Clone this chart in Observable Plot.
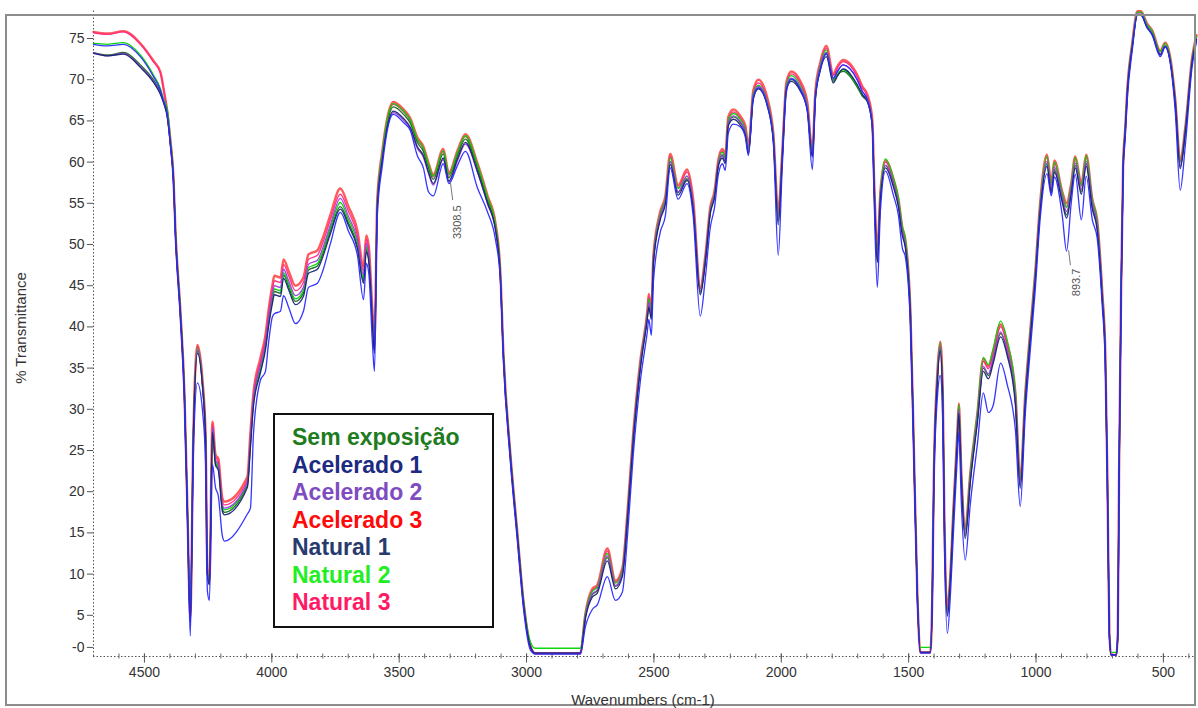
<!DOCTYPE html>
<html><head><meta charset="utf-8">
<script src="https://cdn.jsdelivr.net/npm/d3@7"></script>
<script src="https://cdn.jsdelivr.net/npm/@observablehq/plot@0.6"></script>
<style>
body{margin:0;background:#fff;width:1198px;height:708px;overflow:hidden;position:relative;font-family:"Liberation Sans",Arial,sans-serif}
#chart{position:absolute;left:0;top:0}
#frame{position:absolute;left:5px;top:14px;width:1191px;height:692px;box-sizing:border-box;border:2px solid #8c8c8c;pointer-events:none}
#legend{position:absolute;left:273px;top:413px;width:221px;height:215px;box-sizing:border-box;border:2px solid #111;background:#fff;padding:9px 0 0 17px}
#legend div{font-weight:bold;font-size:23px;line-height:27.5px;white-space:nowrap}
#ylab{position:absolute;left:20px;top:328px;transform:translate(-50%,-50%) rotate(-90deg);font-size:15px;color:#333;white-space:nowrap}
#xlab{position:absolute;left:643px;top:699px;transform:translate(-50%,-50%);font-size:15px;color:#333;white-space:nowrap}
</style></head>
<body>
<div id="chart"></div>
<div id="frame"></div>
<div id="ylab">% Transmittance</div>
<div id="xlab">Wavenumbers (cm-1)</div>
<div id="legend"></div>
<script>
const wavenumbers = [4700,4645,4582,4516,4465,4437,4425,4410,4398,4386,
4378,4359,4343,4331,4320,4308,4292,4272,4260,4253,
4245,4233,4221,4210,4194,4186,4096,4084,4072,4045,
4025,4013,3998,3990,3966,3954,3934,3907,3876,3856,
3821,3801,3770,3731,3699,3664,3640,3629,3619,3605,
3597,3586,3566,3547,3523,3483,3456,3429,3405,3385,
3366,3327,3305,3271,3240,3193,3154,3122,3103,3091,
3064,3036,3012,2985,2966,2789,2769,2742,2722,2683,
2651,2624,2604,2581,2553,2526,2520,2510,2502,2475,
2455,2436,2405,2370,2346,2318,2298,2279,2262,2247,
2231,2220,2208,2188,2161,2141,2129,2110,2090,2055,
2031,2012,1996,1980,1961,1925,1898,1878,1866,1847,
1823,1796,1780,1757,1702,1682,1662,1643,1635,1623,
1611,1591,1560,1540,1525,1513,1493,1481,1466,1454,
1415,1407,1401,1387,1376,1366,1360,1348,1336,1325,
1309,1303,1293,1278,1258,1230,1207,1187,1168,1139,
1113,1081,1062,1042,1023,1003,984,957,940,928,
897,880,862,846,822,803,779,760,740,728,
720,712,705,685,679,674,666,658,650,642,
622,602,588,564,544,512,493,473,453,434,
414,387,370];

const acelerado3 = [75.8,75.6,75.9,74.4,72.3,70.9,68.9,66.0,62.6,58.1,
51.5,42.0,32.0,17.5,4.7,27.0,37.8,33.5,27.0,10.5,
9.2,28.5,24.5,24.0,19.2,18.8,21.8,27.2,32.0,36.2,
39.0,42.0,45.0,46.2,46.0,48.2,46.8,45.0,46.0,48.8,
49.3,50.7,53.6,56.8,54.6,51.7,47.3,51.1,49.7,42.0,
38.5,55.5,61.4,65.3,67.3,66.4,65.3,63.0,61.9,59.9,
58.5,61.6,58.7,61.4,63.4,59.9,56.0,52.6,46.8,37.0,
24.8,15.0,6.7,1.3,0.4,0.4,5.2,8.2,8.7,13.1,
9.2,10.7,17.5,27.2,36.0,41.9,44.0,41.9,48.7,54.0,
55.9,61.0,57.2,59.1,55.5,44.8,48.7,54.5,56.5,60.3,
61.6,60.9,65.5,66.4,65.6,64.4,61.9,68.7,70.0,67.8,
63.4,54.0,61.4,69.7,71.0,69.8,67.3,61.4,68.7,72.1,
74.1,70.7,71.6,72.4,70.6,69.2,68.2,65.3,57.4,49.2,
56.4,60.2,58.0,55.5,52.1,50.6,41.9,27.2,7.8,0.5,
0.5,7.8,22.3,34.6,38.2,32.0,17.5,5.7,10.2,17.5,
27.2,30.7,22.3,15.5,22.3,29.6,36.1,35.2,37.1,40.3,
38.0,32.0,21.5,32.0,39.4,46.7,55.0,60.9,57.5,60.2,
56.4,55.0,57.4,60.7,57.4,60.9,55.5,53.0,44.3,37.0,
22.3,2.8,0.2,0.2,2.8,22.3,44.3,59.8,64.0,68.7,
74.5,78.3,78.3,76.8,76.0,73.5,74.5,72.7,67.5,60.2,
64.2,72.7,75.4];

const natural3 = [75.7,75.5,75.8,74.3,72.2,70.8,68.9,66.1,62.7,58.2,
51.5,42.0,32.0,17.5,4.6,27.0,37.6,33.3,26.9,10.4,
9.1,28.2,24.2,23.7,18.8,18.4,21.4,26.8,31.6,35.8,
38.6,41.6,44.5,45.6,45.4,47.6,46.2,44.4,45.4,48.2,
48.7,50.1,53.0,56.1,54.0,51.1,46.8,50.6,49.2,41.6,
38.1,55.2,61.1,65.0,67.0,66.1,65.0,62.7,61.6,59.6,
58.2,61.3,58.4,61.1,63.1,59.6,55.7,52.3,46.6,36.9,
24.7,14.9,6.6,1.3,0.4,0.4,5.1,8.0,8.5,12.8,
9.0,10.5,17.3,27.0,35.8,41.7,43.7,41.7,48.5,53.8,
55.7,60.7,56.9,58.8,55.2,44.6,48.5,54.3,56.3,60.1,
61.3,60.6,65.2,66.1,65.3,64.1,61.7,68.4,69.6,67.5,
63.2,53.6,61.2,69.5,70.7,69.5,67.1,61.2,68.5,71.9,
73.8,70.5,71.4,72.2,70.4,69.0,68.0,65.1,57.2,48.9,
56.2,60.0,57.8,55.3,51.9,50.4,41.8,27.1,7.7,0.5,
0.5,7.7,22.2,34.4,38.0,31.8,17.4,5.6,10.1,17.4,
27.0,30.5,22.1,15.3,22.1,29.4,35.8,34.9,36.8,40.0,
37.7,31.7,21.3,31.8,39.2,46.5,54.8,60.6,57.2,59.9,
56.1,54.6,57.1,60.4,57.1,60.6,55.3,52.8,44.1,36.9,
22.2,2.8,0.2,0.2,2.8,22.2,44.2,59.7,63.9,68.6,
74.4,78.2,78.2,76.7,75.9,73.4,74.4,72.6,67.4,60.0,
64.1,72.6,75.3];

const acelerado2 = [73.3,72.9,73.2,71.6,69.8,68.3,67.3,65.5,62.2,57.8,
51.2,41.7,31.7,17.2,4.3,26.6,37.2,33.0,26.6,10.2,
8.9,27.8,23.9,23.3,18.4,18.0,21.1,26.3,31.2,35.3,
38.1,41.0,43.9,45.0,44.8,47.0,45.6,43.8,44.8,47.6,
48.1,49.5,52.4,55.6,53.4,50.6,46.3,50.1,48.7,41.2,
37.7,54.8,60.5,64.2,66.0,65.1,64.0,61.7,60.6,58.6,
57.2,60.3,57.6,60.2,62.2,58.8,55.0,51.7,46.2,36.6,
24.5,14.7,6.5,1.2,0.4,0.4,4.9,7.6,8.1,12.2,
8.6,10.1,16.9,26.6,35.4,41.3,43.0,41.3,48.1,53.4,
55.3,60.1,56.4,58.3,54.8,44.3,48.2,54.0,56.0,59.8,
60.9,60.2,64.8,65.6,64.9,63.7,61.3,68.0,69.2,67.1,
62.9,53.0,60.8,69.1,70.2,69.0,66.7,60.9,68.1,71.5,
73.3,70.1,71.0,71.8,70.0,68.6,67.7,64.8,56.8,48.4,
55.8,59.6,57.4,54.9,51.5,50.0,41.5,26.9,7.6,0.5,
0.5,7.6,22.0,34.0,37.6,31.4,17.1,5.3,9.8,17.0,
26.6,30.0,21.7,14.9,21.6,28.9,35.2,34.3,36.2,39.4,
37.1,31.2,20.9,31.4,38.9,46.2,54.4,60.1,56.8,59.4,
55.7,54.0,56.7,59.9,56.7,60.1,54.9,52.4,43.8,36.6,
22.0,2.7,0.2,0.2,2.7,22.0,44.0,59.5,63.7,68.4,
74.2,78.0,78.0,76.4,75.6,73.1,74.1,72.3,67.1,59.6,
63.8,72.3,75.0];

const natural2 = [74.4,74.3,74.5,73.0,70.6,68.9,67.6,66.4,62.8,58.2,
51.6,42.1,32.1,17.6,4.8,27.1,37.4,33.2,26.8,10.5,
9.2,27.6,23.7,23.1,18.2,17.8,21.0,26.0,31.0,35.0,
37.8,40.6,43.5,44.6,44.4,46.6,45.2,43.4,44.4,47.2,
47.7,49.1,52.0,55.1,53.0,50.2,45.9,49.7,48.4,40.9,
37.4,55.3,61.2,65.1,67.1,66.2,65.1,62.8,61.7,59.7,
58.3,61.4,58.5,61.2,63.2,59.7,55.8,52.4,46.7,37.0,
24.8,15.0,6.9,1.8,1.0,1.0,5.2,7.9,8.4,12.5,
8.9,10.4,17.2,26.9,35.7,41.6,43.4,41.6,48.4,53.7,
55.6,60.5,56.8,58.3,54.8,44.4,48.4,54.2,56.2,60.0,
61.2,60.5,65.1,65.9,65.2,64.0,61.6,68.3,69.3,67.3,
63.1,53.4,61.1,69.4,70.5,69.2,66.9,61.1,68.3,71.7,
73.6,70.0,70.8,71.2,69.3,68.2,67.6,64.9,57.1,48.8,
56.3,60.4,58.1,55.6,52.2,50.7,42.0,27.3,8.0,1.1,
1.1,8.0,22.4,34.5,38.1,31.9,17.5,5.7,10.2,17.5,
27.1,30.6,22.2,15.4,22.3,29.7,36.3,35.4,37.4,40.7,
38.3,32.2,21.6,32.0,39.4,46.7,54.9,60.7,57.3,60.0,
56.2,54.5,57.2,60.6,57.2,60.8,55.4,52.9,44.2,37.0,
22.3,3.0,0.5,0.5,3.0,22.3,44.3,59.8,64.0,68.7,
74.5,78.2,78.2,76.7,75.9,73.4,74.4,72.6,67.4,60.0,
64.1,72.6,75.3];

const semExposicao = [73.3,73.0,73.3,71.8,70.0,68.5,67.4,65.6,62.3,57.9,
51.3,41.8,31.8,17.3,4.4,26.7,37.0,32.9,26.5,10.1,
8.8,27.4,23.4,22.9,17.9,17.5,20.8,25.7,30.7,34.7,
37.5,40.3,43.2,44.3,44.1,46.3,44.9,43.1,44.1,46.9,
47.4,48.8,51.7,54.6,52.6,49.8,45.6,49.4,48.1,40.6,
37.1,54.7,60.7,64.6,66.7,65.8,64.7,62.4,61.3,59.3,
57.9,61.0,58.1,60.8,62.8,59.3,55.4,52.1,46.4,36.7,
24.6,14.8,6.6,1.3,0.4,0.4,4.8,7.5,8.0,12.0,
8.5,10.0,16.8,26.5,35.3,41.2,42.8,41.2,48.0,53.3,
55.2,60.0,56.3,58.0,54.5,44.1,48.1,53.9,55.9,59.7,
60.8,60.1,64.7,65.5,64.8,63.6,61.2,67.9,69.0,67.0,
62.8,52.8,60.7,69.0,70.0,68.8,66.5,60.8,67.9,71.3,
73.1,69.8,70.6,71.0,69.1,68.0,67.3,64.6,56.6,48.1,
55.7,59.6,57.3,54.8,51.4,49.9,41.4,26.8,7.5,0.5,
0.5,7.5,21.8,33.8,37.4,31.2,16.9,5.1,9.6,16.8,
26.4,29.8,21.5,14.6,21.4,28.7,35.0,34.1,36.0,39.2,
36.9,31.0,20.7,31.2,38.7,46.0,54.2,59.8,56.5,59.1,
55.4,53.6,56.4,59.6,56.4,59.8,54.6,52.1,43.6,36.5,
21.9,2.7,0.2,0.2,2.7,21.9,43.9,59.4,63.6,68.3,
74.1,77.9,77.9,76.4,75.6,73.1,74.1,72.3,67.1,59.4,
63.7,72.3,75.0];

const natural1 = [73.2,72.9,73.1,71.5,69.7,68.2,67.2,65.4,62.1,57.7,
51.1,41.6,31.6,17.1,4.2,26.5,36.8,32.7,26.3,10.0,
8.7,27.2,23.2,22.6,17.6,17.2,20.5,25.3,30.4,34.4,
37.2,40.0,42.8,43.9,43.7,45.9,44.5,42.7,43.7,46.5,
47.0,48.4,51.3,54.3,52.3,49.5,45.3,49.1,47.8,40.3,
36.8,54.4,60.3,64.2,66.2,65.3,64.2,61.9,60.8,58.8,
57.4,60.5,57.7,60.4,62.4,58.9,55.1,51.8,46.2,36.5,
24.4,14.6,6.4,1.2,0.4,0.4,4.6,7.2,7.7,11.6,
8.2,9.7,16.5,26.2,35.0,40.9,42.4,40.9,47.7,53.0,
54.9,59.7,56.0,57.8,54.3,43.9,47.9,53.7,55.7,59.5,
60.5,59.8,64.4,65.2,64.5,63.3,61.0,67.6,68.9,66.8,
62.6,52.4,60.5,68.8,69.8,68.6,66.3,60.6,67.7,71.1,
72.8,69.6,70.4,71.3,69.4,68.2,67.4,64.5,56.4,47.8,
55.4,59.3,57.0,54.5,51.1,49.6,41.2,26.6,7.4,0.5,
0.5,7.4,21.6,33.5,37.1,30.9,16.7,4.9,9.4,16.6,
26.1,29.5,21.2,14.3,21.1,28.4,34.6,33.7,35.6,38.8,
36.5,30.6,20.4,30.9,38.4,45.7,53.9,59.5,56.2,58.8,
55.1,53.2,56.1,59.3,56.1,59.5,54.3,51.8,43.4,36.3,
21.8,2.6,0.2,0.2,2.6,21.8,43.8,59.3,63.5,68.2,
74.0,77.8,77.8,76.3,75.5,73.0,74.0,72.2,67.0,59.2,
63.6,72.2,74.9];

const acelerado1 = [74.3,74.1,74.3,72.8,70.4,68.7,67.4,65.8,62.0,57.4,
50.7,41.0,30.8,16.0,2.5,24.5,33.2,29.8,23.5,8.0,
6.8,23.3,20.5,19.5,14.6,14.0,17.3,18.0,27.0,33.5,
34.6,38.0,41.2,41.6,41.9,43.8,42.4,40.4,41.9,44.8,
45.3,46.7,50.1,53.9,51.6,48.7,43.3,47.7,46.4,38.0,
34.6,53.5,59.6,63.8,65.8,64.8,63.8,60.8,59.3,56.4,
55.9,59.8,57.4,59.6,61.3,56.9,54.0,50.6,45.8,36.0,
23.8,14.0,5.8,0.8,0.3,0.3,3.6,5.7,6.3,9.7,
6.8,7.8,14.5,24.5,33.5,39.4,40.9,39.0,45.5,51.5,
53.5,59.3,55.5,57.4,53.5,41.3,46.0,52.0,54.5,58.5,
59.8,59.0,63.5,64.6,64.3,63.0,60.8,67.8,69.0,66.9,
62.3,48.7,59.5,68.5,70.1,68.8,66.2,59.1,67.8,71.2,
73.2,70.2,71.0,71.8,70.0,68.6,67.5,64.3,55.0,44.8,
54.0,58.9,56.0,53.5,49.6,48.5,40.0,25.8,6.9,0.4,
0.4,6.9,20.5,31.5,34.1,28.5,14.5,2.8,7.5,14.5,
24.2,27.2,18.5,11.7,18.5,25.8,32.0,29.6,30.5,35.6,
33.0,27.5,18.2,29.5,37.0,44.5,53.0,58.6,55.9,58.2,
53.5,49.2,55.0,58.5,53.0,58.3,53.0,50.8,42.5,35.5,
21.3,2.4,0.2,0.2,2.4,21.3,43.3,58.7,62.8,67.5,
73.6,77.9,77.9,76.4,75.4,72.8,74.0,72.0,66.0,56.6,
62.0,71.6,74.6];

const seriesNames = ["Sem exposição","Acelerado 1","Acelerado 2","Acelerado 3","Natural 1","Natural 2","Natural 3"];
const lineColors = ["#17691a","#2a2aff","#9a3de0","#ff0000","#1a2372","#00d400","#ff2a85"];
const legendColors = ["#1e7b1e","#1c2a82","#7e4cc0","#ff0a0a","#283a6e","#22ee22","#ff1a66"];
const xTickValues = [4500,4000,3500,3000,2500,2000,1500,1000,500];
const xTickLabels = ["4500","4000","3500","3000","2500","2000","1500","1000","500"];
const yTickValues = [1.1,5,10,15,20,25,30,35,40,45,50,55,60,65,70,75];
const yTickLabels = ["-0","5","10","15","20","25","30","35","40","45","50","55","60","65","70","75"];
const peakLabels = [
  {w:3271, t:52.7, label:"3308.5", x1:3299, y1:57.6, x2:3290, y2:55.4},
  {w:841, t:45.4, label:"893.7", x1:872, y1:49.3, x2:865, y2:47.5}
];

const seriesValues = [semExposicao, acelerado1, acelerado2, acelerado3, natural1, natural2, natural3];
const drawOrder = [3, 6, 0, 5, 2, 4, 1];
const rows = seriesNames.flatMap((s, k) => wavenumbers.map((w, i) => ({series: s, k, w, t: seriesValues[k][i]})))
  .filter(r => r.t !== undefined)
  .sort((a, b) => a.w - b.w);
const minorTicks = d3.range(400, 4700, 100);

const lineMarks = drawOrder.map(k => Plot.line(rows.filter(r => r.k === k), {
  x: "w", y: "t", stroke: lineColors[k],
  strokeWidth: k === 3 ? 2.4 : 1.3,
  strokeOpacity: k === 3 ? 0.65 : 0.95,
  curve: "monotone-x"
}));

const chart = Plot.plot({
  width: 1198, height: 708,
  marginLeft: 93, marginRight: 2, marginTop: 10, marginBottom: 52,
  x: {domain: [4700, 370], axis: null},
  y: {domain: [0, 78.4], axis: null},
  style: {background: "transparent", fontFamily: "'Liberation Sans', Arial, sans-serif"},
  marks: [
    Plot.ruleX([4700], {y1: 0, y2: 78.4, stroke: "#555", strokeDasharray: "1.5,2"}),
    Plot.ruleY([0], {x1: 4700, x2: 370, stroke: "#555", strokeDasharray: "1.5,2"}),
    Plot.ruleX(minorTicks, {y1: -0.3, y2: 0.3, stroke: "#666"}),
    Plot.ruleX(xTickValues, {y1: -0.8, y2: 0.3, stroke: "#555"}),
    Plot.ruleY(yTickValues, {x1: 4724, x2: 4700, stroke: "#555"}),
    Plot.text(xTickValues, {x: d => d, y: 0, dy: 16, text: (d, i) => xTickLabels[i], fontSize: 14, fill: "#333"}),
    Plot.text(yTickValues, {x: 4700, y: d => d, dx: -9, textAnchor: "end", text: (d, i) => yTickLabels[i], fontSize: 14, fill: "#333"}),
    ...lineMarks,
    Plot.link(peakLabels, {x1: "x1", y1: "y1", x2: "x2", y2: "y2", stroke: "#777", strokeWidth: 1}),
    Plot.text(peakLabels, {x: "w", y: "t", text: "label", rotate: -90, fontSize: 11, fill: "#555"})
  ]
});
document.getElementById("chart").appendChild(chart);

const legend = document.getElementById("legend");
seriesNames.forEach((s, k) => {
  const d = document.createElement("div");
  d.textContent = s;
  d.style.color = legendColors[k];
  legend.appendChild(d);
});
</script>
</body></html>
